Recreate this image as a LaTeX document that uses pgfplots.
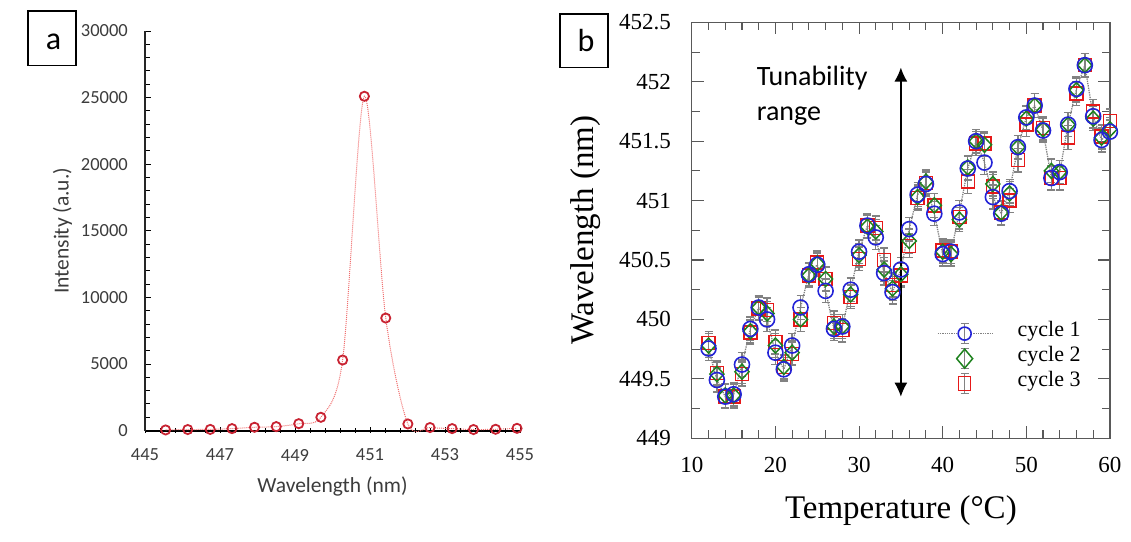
\documentclass[border=0pt]{standalone}
\usepackage{fontspec}
\setmainfont{Liberation Serif}
\newfontfamily\carl{Carlito}
\usepackage{pgfplots}
\pgfplotsset{compat=1.18}
\usetikzlibrary{arrows.meta}
\definecolor{cblue}{RGB}{35,35,215}
\definecolor{cgreen}{RGB}{30,130,30}
\definecolor{cred}{RGB}{230,25,25}
\definecolor{pred}{RGB}{200,35,50}
\definecolor{pline}{RGB}{240,110,110}
\definecolor{atext}{RGB}{60,60,60}
\definecolor{ebar}{RGB}{130,130,130}
\newcommand{\legbar}{%
    \draw[ebar, solid, line width=1.4pt] (27pt,-10pt) -- (27pt,10pt);
    \draw[ebar, solid, line width=1.4pt] (23pt,-10pt) -- (31pt,-10pt);
    \draw[ebar, solid, line width=1.4pt] (23pt,10pt) -- (31pt,10pt);
    \path[draw=none] (0pt,0pt) -- (80pt,0pt);}
\pgfplotsset{
  legsquare/.style={legend image code/.code={\legbar
    \draw[cred, solid, line width=1.5pt] (21pt,-7pt) rectangle (33pt,7pt);}},
  legdiamond/.style={legend image code/.code={\legbar
    \draw[cgreen, solid, line width=1.5pt] (27pt,9.5pt) -- (35pt,0pt) -- (27pt,-9.5pt) -- (19pt,0pt) -- cycle;}},
  legline/.style={legend image code/.code={\legbar
    \draw[ebar, densely dotted, line width=1.3pt] (0pt,0pt) -- (20.5pt,0pt);
    \draw[ebar, densely dotted, line width=1.3pt] (33.5pt,0pt) -- (55pt,0pt);
    \draw[cblue, solid, line width=1.6pt] (27pt,0pt) circle[radius=6.5pt];}},
  myerr/.style={error bars/.cd, y dir=both, y fixed=0.1,
    error bar style={ebar, solid, line width=1.4pt},
    error mark options={ebar, solid, line width=1.4pt, mark size=4pt, rotate=90}},
}
\begin{document}
\begin{tikzpicture}
\path (0pt,0pt) rectangle (1131pt,-541pt);
% panel labels
\draw[line width=1.5pt] (28pt,-11pt) rectangle (76pt,-65.6pt);
\node[font=\carl\fontsize{32}{32}\selectfont, inner sep=0pt] at (53.6pt,-41.4pt) {a};
\draw[line width=1.5pt] (560pt,-13.8pt) rectangle (608pt,-67.3pt);
\node[font=\carl\fontsize{32}{32}\selectfont, inner sep=0pt] at (586pt,-40.7pt) {b};
% ---------------- panel a
\begin{axis}[
  at={(145pt,-430.6pt)}, anchor=south west,
  scale only axis, width=375pt, height=399.6pt,
  xmin=445, xmax=455, ymin=0, ymax=30000,
  clip=false, scaled y ticks=false, scaled x ticks=false,
  axis lines=left, axis line style={-},
  x axis line style={line width=1.8pt, black},
  y axis line style={line width=1.1pt, black!85},
  xtick={445,447,...,455}, xticklabels={445,447,449,451,453,455},
  minor x tick num=4,
  ytick={0,5000,...,30000}, yticklabels={0,5000,10000,15000,20000,25000,30000},
  minor y tick num=4,
  tick align=inside,
  major tick length=6pt, minor tick length=5pt,
  tick style={black, line width=1pt},
  x tick style={yshift=-2pt},
  tick label style={font=\carl\fontsize{18.5}{20}\selectfont, text=atext, inner sep=0pt},
  yticklabel style={anchor=east, xshift=-17pt},
  xticklabel style={anchor=center, yshift=-24.4pt},
  xlabel={Wavelength (nm)}, ylabel={Intensity (a.u.)},
  xlabel style={at={(axis description cs:0.5,-0.1399)}, anchor=center, font=\carl\fontsize{21.5}{24}\selectfont, text=atext},
  ylabel style={at={(axis description cs:-0.22,0.5)}, anchor=center, font=\carl\fontsize{21.5}{24}\selectfont, text=atext},
]
\addplot[pline, densely dotted, line width=1pt, smooth, tension=0.5, mark=o, mark size=4.6pt,
  mark options={solid, draw=pred, line width=1.8pt}] coordinates {
(445.55,50) (446.14,80) (446.74,90) (447.32,150) (447.92,250) (448.50,300)
(449.10,520) (449.69,1000) (450.27,5300) (450.85,25100) (451.42,8450)
(452.01,500) (452.60,230) (453.19,150) (453.76,80) (454.35,100) (454.92,170)
};
\end{axis}
% ---------------- panel b
\begin{axis}[
  at={(691.8pt,-438.2pt)}, anchor=south west,
  scale only axis, width=418.1pt, height=415.8pt,
  xmin=10, xmax=60, ymin=449, ymax=452.5,
  axis line style={line width=1.2pt, black!65},
  tick align=inside,
  xtick={10,20,...,60}, xticklabels={10,20,30,40,50,60}, minor x tick num=4,
  ytick={449,449.5,...,452.5}, yticklabels={449,449.5,450,450.5,451,451.5,452,452.5}, minor y tick num=1,
  major tick length=12pt, minor tick length=8pt,
  tick style={black!65, line width=1.1pt},
  tick label style={font=\fontsize{23}{26}\selectfont, inner sep=0pt},
  yticklabel style={anchor=east, xshift=-20.8pt},
  xticklabel style={anchor=center, yshift=-26.6pt},
  xlabel={Temperature (\textdegree C)}, ylabel={Wavelength (nm)},
  xlabel style={at={(axis description cs:0.5,-0.1744)}, anchor=center, font=\fontsize{33}{36}\selectfont},
  ylabel style={at={(axis description cs:-0.2542,0.5)}, anchor=center, font=\fontsize{33}{36}\selectfont},
  legend style={at={(axis description cs:0.586,0.1914)}, anchor=west, draw=none, fill=none,
    inner sep=0pt, row sep=0pt, font=\fontsize{22}{24}\selectfont,
    nodes={inner sep=0pt, text height=15pt, text depth=10pt}},
  legend cell align=left,
  reverse legend,
]
% cycle 3
\addplot[only marks, mark=square, mark size=6.5pt, mark options={draw=cred, line width=1.5pt},
  legsquare, myerr] coordinates {
(12,449.80) (13,449.55) (14,449.35) (15,449.35) (16,449.54) (17,449.89) (18,450.09) (19,450.08)
(20,449.81) (21,449.60) (22,449.71) (23,450.00) (24,450.37) (25,450.48) (26,450.34) (27,449.97)
(28,449.91) (29,450.19) (30,450.51) (31,450.79) (32,450.77) (33,450.50) (34,450.29) (35,450.37)
(36,450.62) (37,451.02) (38,451.15) (39,450.96) (40,450.58) (41,450.57) (42,450.86) (43,451.16)
(44,451.48) (45,451.48) (46,451.12) (47,450.90) (48,451.00) (49,451.34) (50,451.64) (51,451.80)
(52,451.61) (53,451.19) (54,451.19) (55,451.53) (56,451.90) (57,452.14) (58,451.75) (59,451.54)
(60,451.67)
};
\addlegendentry{cycle 3}
% cycle 2
\addplot[only marks, mark=diamond, mark size=7.5pt, mark options={draw=cgreen, line width=1.5pt, xscale=1.25},
  legdiamond, myerr] coordinates {
(12,449.78) (13,449.54) (14,449.36) (15,449.36) (16,449.56) (17,449.90) (18,450.10) (19,450.05)
(20,449.78) (21,449.60) (22,449.72) (23,450.00) (24,450.37) (25,450.47) (26,450.34) (27,449.94)
(28,449.94) (29,450.21) (30,450.54) (31,450.78) (32,450.74) (33,450.42) (34,450.26) (35,450.38)
(36,450.66) (37,451.03) (38,451.16) (39,450.96) (40,450.57) (41,450.55) (42,450.84) (43,451.28)
(44,451.50) (45,451.47) (46,451.14) (47,450.90) (48,451.06) (49,451.45) (50,451.69) (51,451.80)
(52,451.60) (53,451.25) (54,451.24) (55,451.64) (56,451.93) (57,452.14) (58,451.69) (59,451.53)
(60,451.60)
};
\addlegendentry{cycle 2}
% cycle 1
\addplot[ebar, densely dotted, line width=1.3pt, mark=o, mark size=7.5pt, mark options={solid, draw=cblue, line width=1.6pt},
  legline, myerr] coordinates {
(12,449.755) (13,449.49) (14,449.35) (15,449.37) (16,449.62) (17,449.92) (18,450.10) (19,450.00)
(20,449.72) (21,449.58) (22,449.78) (23,450.10) (24,450.38) (25,450.46) (26,450.24) (27,449.92)
(28,449.94) (29,450.25) (30,450.57) (31,450.79) (32,450.69) (33,450.39) (34,450.23) (35,450.42)
(36,450.76) (37,451.05) (38,451.14) (39,450.89) (40,450.55) (41,450.57) (42,450.90) (43,451.27)
(44,451.50) (45,451.32) (46,451.03) (47,450.89) (48,451.08) (49,451.45) (50,451.70) (51,451.80)
(52,451.59) (53,451.19) (54,451.24) (55,451.64) (56,451.94) (57,452.14) (58,451.71) (59,451.51)
(60,451.58)
};
\addlegendentry{cycle 1}
\draw[{Latex[length=14pt,width=13pt]}-{Latex[length=14pt,width=13pt]}, line width=1.3pt]
  (axis cs:35,449.35) -- (axis cs:35,452.12);
\node[anchor=west, align=left, font=\carl\fontsize{28}{35}\selectfont, inner sep=0pt]
  at (axis cs:17.75,451.88) {Tunability\\range};
\end{axis}
\end{tikzpicture}
\end{document}
